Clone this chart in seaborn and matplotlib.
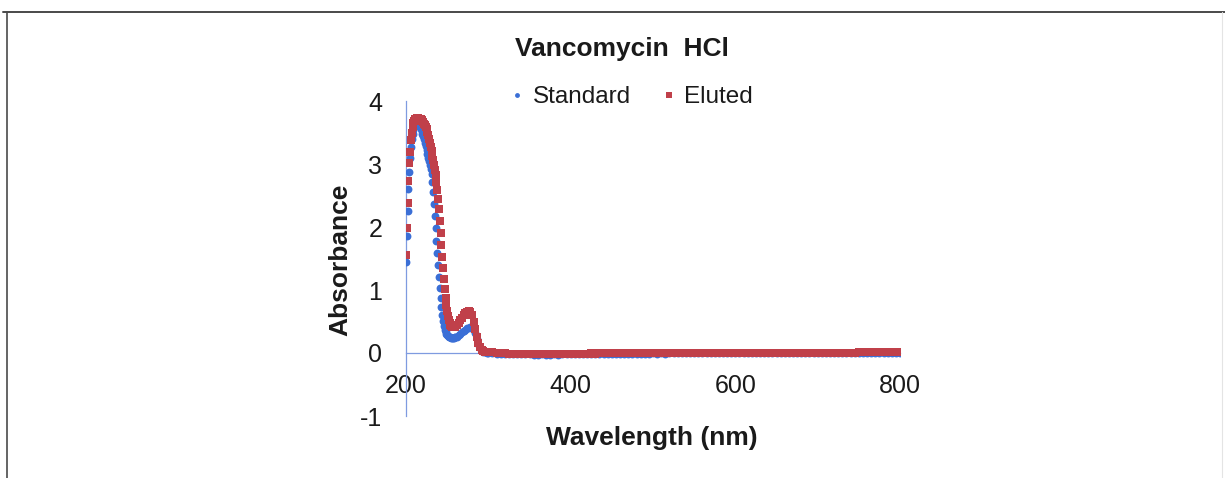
import numpy as np
import pandas as pd
import matplotlib
matplotlib.use("Agg")
import matplotlib.pyplot as plt
from matplotlib.lines import Line2D
import seaborn as sns

# ---------------- data ----------------
# 200-260 nm, 1 nm step
wl_peak = list(range(200, 261, 1))
std_peak = [1.45, 1.85, 2.25, 2.60, 2.88, 3.10, 3.27, 3.39, 3.48, 3.54,
            3.58, 3.61, 3.62, 3.63, 3.63, 3.62, 3.60, 3.58, 3.55, 3.52,
            3.48, 3.44, 3.39, 3.34, 3.28, 3.22, 3.16, 3.10, 3.04, 2.98,
            2.92, 2.84, 2.72, 2.55, 2.37, 2.18, 1.98, 1.78, 1.58, 1.39,
            1.20, 1.03, 0.87, 0.73, 0.61, 0.51, 0.43, 0.37, 0.33, 0.30,
            0.28, 0.27, 0.26, 0.25, 0.25, 0.24, 0.24, 0.24, 0.24, 0.25,
            0.25]
elu_peak = [1.55, 1.98, 2.38, 2.73, 3.01, 3.19, 3.38, 3.50, 3.59, 3.65,
            3.69, 3.71, 3.72, 3.73, 3.73, 3.73, 3.72, 3.72, 3.71, 3.70,
            3.68, 3.66, 3.64, 3.62, 3.59, 3.55, 3.51, 3.46, 3.40, 3.34,
            3.27, 3.20, 3.13, 3.06, 2.99, 2.91, 2.82, 2.71, 2.58, 2.44,
            2.28, 2.10, 1.91, 1.72, 1.53, 1.35, 1.18, 1.02, 0.88, 0.76,
            0.66, 0.58, 0.52, 0.48, 0.45, 0.43, 0.42, 0.41, 0.41, 0.42,
            0.43]
# 262-300 nm, 2 nm step
wl_band = list(range(262, 301, 2))
std_band = [0.26, 0.28, 0.30, 0.33, 0.35, 0.37, 0.39, 0.40, 0.41, 0.40,
            0.37, 0.31, 0.23, 0.15, 0.08, 0.04, 0.02, 0.01, 0.00, 0.00]
elu_band = [0.45, 0.48, 0.52, 0.56, 0.60, 0.63, 0.65, 0.66, 0.65, 0.60,
            0.50, 0.38, 0.26, 0.16, 0.09, 0.05, 0.03, 0.02, 0.01, 0.01]
# 305-800 nm, 5 nm step
wl_tail = list(range(305, 801, 5))
std_tail = [0.00, -0.01, -0.01, -0.01, -0.02, -0.02, -0.02, -0.02, -0.02, -0.02,
            -0.03, -0.03, -0.02, -0.03, -0.03, -0.02, -0.03, -0.02, -0.02, -0.02,
            -0.02, -0.02, -0.02, -0.02, -0.02, -0.01, -0.02, -0.01, -0.01, -0.01,
            -0.01, -0.01, -0.01, -0.01, -0.01, -0.01, -0.01, -0.01, -0.01, 0.00,
            -0.01, 0.00, -0.01, 0.00, 0.00, 0.00, 0.00, 0.00, 0.00, 0.00,
            0.00, 0.00, 0.00, 0.00, 0.00, 0.00, 0.00, 0.00, 0.00, 0.00,
            0.00, 0.00, 0.00, 0.00, 0.00, 0.00, 0.00, 0.00, 0.00, 0.00,
            0.00, 0.00, 0.00, 0.00, 0.00, 0.00, 0.00, 0.00, 0.00, 0.00,
            0.00, 0.00, 0.00, 0.00, 0.00, 0.00, 0.00, 0.00, 0.00, 0.00,
            0.00, 0.00, 0.00, 0.00, 0.00, 0.00, 0.00, 0.00, 0.00, 0.00]
elu_tail = [0.01, 0.00, 0.00, 0.00, -0.01, -0.01, -0.01, -0.01, -0.01, -0.01,
            -0.01, -0.02, -0.01, -0.02, -0.01, -0.01, -0.01, -0.01, -0.01, -0.01,
            -0.01, -0.01, -0.01, -0.01, 0.00, -0.01, 0.00, 0.00, 0.00, 0.00,
            0.00, 0.00, 0.00, 0.00, 0.00, 0.00, 0.00, 0.00, 0.00, 0.00,
            0.00, 0.00, 0.00, 0.00, 0.00, 0.00, 0.00, 0.00, 0.00, 0.00,
            0.00, 0.00, 0.00, 0.00, 0.00, 0.00, 0.00, 0.00, 0.00, 0.00,
            0.00, 0.00, 0.00, 0.00, 0.00, 0.00, 0.00, 0.00, 0.00, 0.00,
            0.00, 0.00, 0.00, 0.00, 0.00, 0.00, 0.00, 0.00, 0.00, 0.00,
            0.00, 0.00, 0.00, 0.00, 0.00, 0.00, 0.00, 0.00, 0.00, 0.01,
            0.01, 0.01, 0.01, 0.01, 0.01, 0.01, 0.01, 0.01, 0.01, 0.01]

series_names = ["Standard", "Eluted"]
x_ticks = [200, 400, 600, 800]
y_ticks = [-1, 0, 1, 2, 3, 4]
title_text = "Vancomycin  HCl"
x_label = "Wavelength (nm)"
y_label = "Absorbance"

wavelength = wl_peak + wl_band + wl_tail
standard = std_peak + std_band + std_tail
eluted = elu_peak + elu_band + elu_tail

df_std = pd.DataFrame({"Wavelength": wavelength, "Absorbance": standard})
df_elu = pd.DataFrame({"Wavelength": wavelength, "Absorbance": eluted})

# ---------------- style ----------------
sns.set_style("white")
plt.rcParams["font.family"] = ["Liberation Sans", "DejaVu Sans"]

BLUE = "#3b6fd6"
RED = "#c0404a"
AXIS_BLUE = "#7f9be0"
TXT = "#1a1a1a"

W, H = 1225, 478
fig = plt.figure(figsize=(W / 100, H / 100), dpi=100)
fig.patch.set_facecolor("white")

x0_px, x1_px = 406, 900
y_top_px, y_bot_px = 101, 416
ax = fig.add_axes([x0_px / W, 1 - y_bot_px / H,
                   (x1_px - x0_px) / W, (y_bot_px - y_top_px) / H])

sns.scatterplot(data=df_std, x="Wavelength", y="Absorbance", ax=ax,
                color=BLUE, marker="o", s=32, linewidth=0, label=series_names[0],
                zorder=3, legend=False)
sns.scatterplot(data=df_elu, x="Wavelength", y="Absorbance", ax=ax,
                color=RED, marker="s", s=38, linewidth=0, label=series_names[1],
                zorder=4, legend=False)

ax.set_xlim(200, 800)
ax.set_ylim(-1, 4)
ax.set_xticks(x_ticks)
ax.set_yticks(y_ticks)
ax.set_xticklabels([str(v) for v in x_ticks])
ax.set_yticklabels([str(v) for v in y_ticks])

for s in ["top", "right"]:
    ax.spines[s].set_visible(False)
ax.spines["bottom"].set_position(("data", 0))
ax.spines["left"].set_position(("data", 200))
for s in ["bottom", "left"]:
    ax.spines[s].set_color(AXIS_BLUE)
    ax.spines[s].set_linewidth(0.9)
    ax.spines[s].set_zorder(2)

ax.tick_params(axis="x", direction="out", length=4, width=0.8, color=AXIS_BLUE,
               labelsize=18, labelcolor=TXT, pad=11)
ax.tick_params(axis="y", direction="out", length=4, width=0.8, color=AXIS_BLUE,
               labelsize=18, labelcolor=TXT, pad=13)
ax.grid(False)

ax.set_xlabel(x_label, fontsize=19, fontweight="bold", color=TXT)
ax.set_ylabel(y_label, fontsize=19, fontweight="bold", color=TXT)
ax.xaxis.set_label_coords((652 - x0_px) / (x1_px - x0_px),
                          (y_bot_px - 438) / (y_bot_px - y_top_px))
ax.xaxis.label.set_va("center")
ax.yaxis.set_label_coords((340 - x0_px) / (x1_px - x0_px),
                          (y_bot_px - 260) / (y_bot_px - y_top_px))
ax.yaxis.label.set_va("center")

fig.text(622 / W, 1 - 49 / H, title_text, ha="center", va="center",
         fontsize=19, fontweight="bold", color=TXT)

handles = [Line2D([], [], linestyle="none", marker="o", markersize=3.5,
                  markerfacecolor=BLUE, markeredgewidth=0),
           Line2D([], [], linestyle="none", marker="s", markersize=4.5,
                  markerfacecolor=RED, markeredgewidth=0)]
fig.legend(handles, series_names, loc="center", ncol=2, frameon=False,
           bbox_to_anchor=(632 / W, 1 - 97 / H), fontsize=17.5,
           handlelength=0.5, handletextpad=0.4, columnspacing=1.3,
           labelcolor=TXT)

# scanned frame around the figure
fig.add_artist(Line2D([3 / W, 1.0], [1 - 12 / H, 1 - 12 / H],
                      transform=fig.transFigure, color="#4a4a4a", lw=1.4))
fig.add_artist(Line2D([7 / W, 7 / W], [0, 1 - 12 / H],
                      transform=fig.transFigure, color="#4a4a4a", lw=1.2))
fig.add_artist(Line2D([1222 / W, 1222 / W], [0, 1 - 12 / H],
                      transform=fig.transFigure, color="#e4e4e4", lw=0.8))

fig.savefig("out.png", dpi=100, facecolor="white")
